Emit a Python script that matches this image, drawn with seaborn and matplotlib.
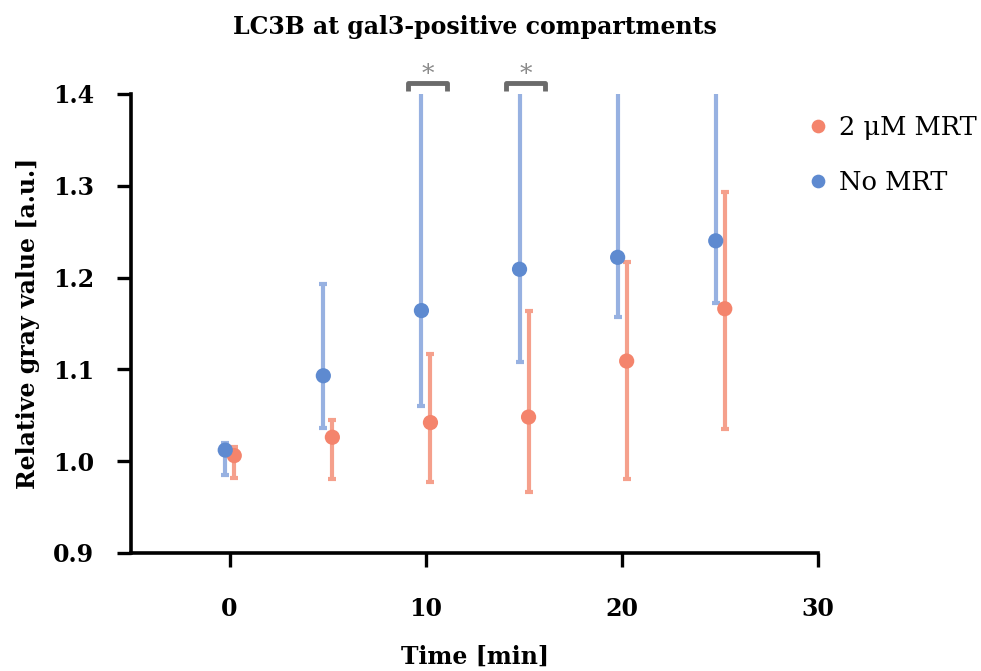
import numpy as np
import pandas as pd
import matplotlib
matplotlib.use("Agg")
import matplotlib.pyplot as plt
import seaborn as sns

# ---- data ----
time_points = [0, 5, 10, 15, 20, 25]
groups = ["2 μM MRT", "No MRT"]
mrt_mean = [1.006, 1.026, 1.042, 1.048, 1.109, 1.166]
mrt_low = [0.982, 0.981, 0.977, 0.966, 0.981, 1.035]
mrt_high = [1.015, 1.045, 1.117, 1.164, 1.217, 1.293]
nomrt_mean = [1.012, 1.093, 1.164, 1.209, 1.222, 1.240]
nomrt_low = [0.985, 1.036, 1.060, 1.108, 1.157, 1.172]
nomrt_high = [1.020, 1.193, 1.480, 1.470, 1.460, 1.470]
sig_times = [10, 15]
sig_labels = ["*", "*"]
x_ticks = [0, 10, 20, 30]
y_ticks = [0.9, 1.0, 1.1, 1.2, 1.3, 1.4]

title = "LC3B at gal3-positive compartments"
xlabel = "Time [min]"
ylabel = "Relative gray value [a.u.]"

# ---- style ----
sns.set_style("white")
plt.rcParams["font.family"] = ["DejaVu Serif"]
plt.rcParams["text.color"] = "black"
plt.rcParams["axes.labelcolor"] = "black"
plt.rcParams["xtick.color"] = "black"
plt.rcParams["ytick.color"] = "black"

colors = {"2 μM MRT": "#f4846c", "No MRT": "#5e8ad0"}
err_colors = {"2 μM MRT": "#f5a08c", "No MRT": "#97b1e1"}
offsets = {"2 μM MRT": 0.24, "No MRT": -0.22}

rows = []
for g, m, lo, hi in [("2 μM MRT", mrt_mean, mrt_low, mrt_high),
                     ("No MRT", nomrt_mean, nomrt_low, nomrt_high)]:
    for t, mv, l, h in zip(time_points, m, lo, hi):
        rows.append({"time": t, "x": t + offsets[g], "value": mv,
                     "low": l, "high": h, "group": g})
df = pd.DataFrame(rows)

fig, ax = plt.subplots(figsize=(9.81, 6.71), dpi=100)
fig.subplots_adjust(left=0.134, right=0.834, top=0.86, bottom=0.176)

for g in groups:
    d = df[df.group == g]
    ax.errorbar(d["x"], d["value"],
                yerr=[d["value"] - d["low"], d["high"] - d["value"]],
                fmt="none", ecolor=err_colors[g], elinewidth=3.0,
                capsize=3.0, capthick=3.0, zorder=2)

sns.scatterplot(data=df, x="x", y="value", hue="group", hue_order=groups,
                palette=colors, s=120, edgecolor="none", ax=ax, zorder=3,
                legend=True)

ax.set_xlim(-5, 30)
ax.set_ylim(0.9, 1.4)
ax.set_xticks(x_ticks)
ax.set_yticks(y_ticks)
ax.set_xticklabels([str(v) for v in x_ticks])
ax.set_yticklabels([f"{v:.1f}" for v in y_ticks])
for lbl in ax.get_xticklabels() + ax.get_yticklabels():
    lbl.set_fontweight("bold")
    lbl.set_fontsize(17)
ax.tick_params(axis="both", direction="out", length=10, width=2.4,
               color="black", bottom=True, left=True)
ax.tick_params(axis="y", pad=17)
ax.tick_params(axis="x", pad=22)

sns.despine(ax=ax)
for s in ["left", "bottom"]:
    ax.spines[s].set_linewidth(2.6)
    ax.spines[s].set_color("black")

ax.set_xlabel(xlabel, fontsize=17, fontweight="bold", labelpad=17)
ax.set_ylabel(ylabel, fontsize=17, fontweight="bold", labelpad=9)
ax.set_title(title, fontsize=17, fontweight="bold", pad=43)

# significance brackets
for t, lab in zip(sig_times, sig_labels):
    x0, x1 = t - 0.9, t + 1.1
    ax.plot([x0, x0, x1, x1], [1.403, 1.412, 1.412, 1.403], color="#6b6b6b",
            lw=3.5, clip_on=False, solid_capstyle="butt", zorder=4)
    ax.text((x0 + x1) / 2, 1.409, lab, ha="center", va="bottom",
            color="#8a8a8a", fontsize=18, clip_on=False)

leg = ax.legend(title=None, frameon=False, loc="upper left",
                bbox_to_anchor=(0.8208, 0.829),
                bbox_transform=fig.transFigure, fontsize=18.5,
                handletextpad=0.3, handlelength=1.0, borderpad=0,
                borderaxespad=0, labelspacing=1.17, markerscale=0.9)

fig.savefig("out.png", dpi=100)
